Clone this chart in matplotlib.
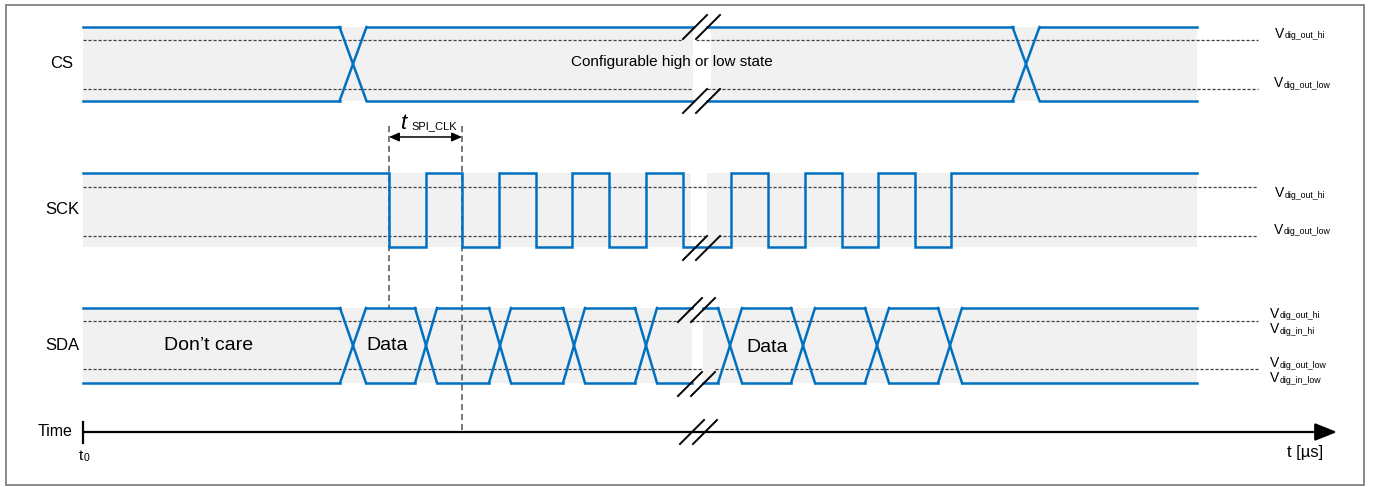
import matplotlib
matplotlib.use("Agg")
import matplotlib.pyplot as plt

plt.rcParams['font.family'] = ['Liberation Sans', 'DejaVu Sans']

# --- data (diagram units = pixels of the original drawing) ---
row_names = ['CS', 'SCK', 'SDA']
row_hi = [27, 173, 308]          # signal high level
row_lo = [101, 247, 383]         # signal low level
ref_hi = [40, 187, 321]          # dashed threshold (hi)
ref_lo = [88.5, 236, 369]        # dashed threshold (lo)
band_gap = [(693, 711), (691, 707), (692, 703)]
line_gap = [(693, 707), None, (692, 703)]
ref_hi_gap = [(683, 696), None, (678, 691)]
ref_lo_gap = [(693, 707), (705, 718), (703, 715)]

t_start, t_end, t_ref_end, t_arrow_end = 83, 1197, 1258, 1337

cs_cross = [353, 1026]
cs_hw = 13.5
sck_edges = [389, 426, 462, 499, 536, 572, 609, 646, 683,
             731, 768, 805, 842, 878, 915, 951]
sda_cross = [353, 426, 500, 574, 646, 730, 803, 877, 950]
sda_hw = [13, 11, 11, 11, 11, 12, 12, 12, 12]

# break marks: (x of lower end, y of lower end)
breaks = [(683, 39), (683, 113), (683, 260), (678, 322), (678, 396), (680, 444)]

ref_labels = [
    [('dig_out_hi', 1275, 38), ('dig_out_low', 1274, 87)],
    [('dig_out_hi', 1275, 197), ('dig_out_low', 1274, 234)],
    [('dig_out_hi', 1270, 317.5), ('dig_in_hi', 1270, 333),
     ('dig_out_low', 1270, 367), ('dig_in_low', 1270, 382.5)],
]

blue = '#0070C0'
grey_band = '#f1f1f1'
dash_col = '#404040'

fig = plt.figure(figsize=(13.73, 4.87), dpi=100)
ax = fig.add_axes([0, 0, 1, 1])
ax.set_xlim(0, 1373)
ax.set_ylim(487, 0)
ax.axis('off')

# frame
ax.add_patch(plt.Rectangle((6, 5), 1358, 480, fill=False, ec='#808080', lw=1.3))


def hseg(y, x0, x1, gap, **kw):
    if gap is None:
        ax.plot([x0, x1], [y, y], **kw)
    else:
        ax.plot([x0, gap[0]], [y, y], **kw)
        ax.plot([gap[1], x1], [y, y], **kw)


for i, name in enumerate(row_names):
    hi, lo = row_hi[i], row_lo[i]
    g0, g1 = band_gap[i]
    ax.fill_between([t_start, g0], hi, lo, color=grey_band, lw=0, zorder=0)
    ax.fill_between([g1, t_end], hi, lo, color=grey_band, lw=0, zorder=0)
    hseg(ref_hi[i], t_start, t_ref_end, ref_hi_gap[i], color=dash_col, lw=0.9,
         dashes=(2.5, 1.5), zorder=1)
    hseg(ref_lo[i], t_start, t_ref_end, ref_lo_gap[i], color=dash_col, lw=0.9,
         dashes=(2.5, 1.5), zorder=1)
    ax.text(62, (hi + lo) / 2, name, fontsize=12, ha='center', va='center')
    for sub, x, y in ref_labels[i]:
        ax.text(x, y, 'V', fontsize=10, va='baseline', ha='left')
        ax.text(x + 9.5, y + 0.5, sub, fontsize=6.3, va='baseline', ha='left')


def bus(i, cross, hws):
    hi, lo = row_hi[i], row_lo[i]
    gap = line_gap[i]
    starts = [t_start] + [c + h for c, h in zip(cross, hws)]
    ends = [c - h for c, h in zip(cross, hws)] + [t_end]
    for s, e in zip(starts, ends):
        for y in (hi, lo):
            if gap is not None and s < gap[0] < e:
                hseg(y, s, e, gap, color=blue, lw=1.8, zorder=3)
            else:
                ax.plot([s, e], [y, y], color=blue, lw=1.8, zorder=3)
    for c, h in zip(cross, hws):
        ax.plot([c - h, c + h], [hi, lo], color=blue, lw=1.8, zorder=3)
        ax.plot([c - h, c + h], [lo, hi], color=blue, lw=1.8, zorder=3)


bus(0, cs_cross, [cs_hw] * len(cs_cross))
bus(2, sda_cross, sda_hw)

# SCK square wave
xs, ys = [t_start], [row_hi[1]]
level = row_hi[1]
for e in sck_edges:
    xs.append(e); ys.append(level)
    level = row_lo[1] if level == row_hi[1] else row_hi[1]
    xs.append(e); ys.append(level)
xs.append(t_end); ys.append(level)
ax.plot(xs, ys, color=blue, lw=1.8, zorder=3, solid_joinstyle='miter')

# texts inside
ax.text(672, 62, 'Configurable high or low state', fontsize=11, ha='center', va='center')
ax.text(209, 346, 'Don\u2019t care', fontsize=14, ha='center', va='center')
ax.text(387, 346, 'Data', fontsize=14, ha='center', va='center')
ax.text(767, 347, 'Data', fontsize=14, ha='center', va='center')

# break marks
for bx, by in breaks:
    for off in (0, 13):
        ax.plot([bx + off, bx + off + 24], [by, by - 24], color='k', lw=1.4, zorder=5)

# t_SPI_CLK
ax.plot([sck_edges[0]] * 2, [126, row_hi[2]], color='#555555', lw=1.1, dashes=(4, 2.5))
ax.plot([sck_edges[2]] * 2, [126, 432], color='#555555', lw=1.1, dashes=(4, 2.5))
ax.annotate('', xy=(sck_edges[0], 137), xytext=(sck_edges[2], 137),
            arrowprops=dict(arrowstyle='<|-|>,head_length=0.5,head_width=0.22',
                            color='k', lw=1.1, mutation_scale=12, shrinkA=0, shrinkB=0))
ax.text(401, 129, 't', fontsize=16, style='italic', va='baseline', ha='left')
ax.text(411, 129, 'SPI_CLK', fontsize=8, va='baseline', ha='left')

# time axis
ax.annotate('', xy=(t_arrow_end, 432), xytext=(t_start, 432),
            arrowprops=dict(arrowstyle='-|>,head_length=0.75,head_width=0.3',
                            color='k', lw=1.6, mutation_scale=18, shrinkA=0, shrinkB=0))
ax.plot([t_start, t_start], [422, 443], color='k', lw=1.6)
ax.text(73, 432, 'Time', fontsize=11.5, ha='right', va='center')
ax.text(79, 460, 't', fontsize=11, va='baseline', ha='left')
ax.text(84, 461, '0', fontsize=7.5, va='baseline', ha='left')
ax.text(1323, 457, 't [\u00b5s]', fontsize=12, va='baseline', ha='right')

fig.savefig('out.png', dpi=100)
